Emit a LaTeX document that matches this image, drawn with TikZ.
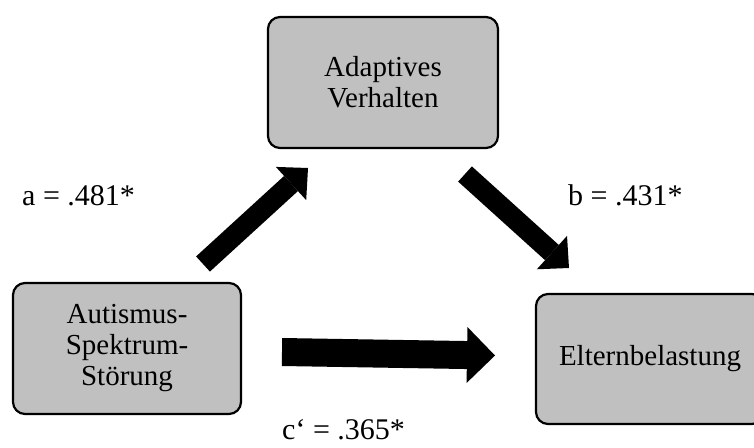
\documentclass[tikz,border=0pt]{standalone}
\usepackage{fontspec}
\setmainfont{Liberation Serif}
\usetikzlibrary{arrows.meta}
\definecolor{boxgray}{RGB}{192,192,192}
\begin{document}
\begin{tikzpicture}[x=1pt,y=-1pt,
  varbox/.style={draw=black, line width=2.2pt, fill=boxgray, rounded corners=12pt,
    align=center, inner sep=0pt, font=\fontsize{29}{31}\selectfont},
  coeff/.style={inner sep=0pt, anchor=base west, font=\fontsize{30}{32}\selectfont},
  thinblock/.style={draw=black, line width=20.5pt,
    -{Triangle[length=23pt,width=45pt,line width=0pt]}},
  thickblock/.style={draw=black, line width=28pt,
    -{Triangle[length=28pt,width=56pt,line width=0pt]}}]
\useasboundingbox (0,0) rectangle (754,447);
\clip (0,0) rectangle (754,447);
% boxes
\node[varbox, minimum width=230pt, minimum height=131pt] (av) at (383,82.5) {Adaptives\\Verhalten};
\node[varbox, minimum width=228pt, minimum height=131pt] (ass) at (127,348.5) {Autismus-\\Spektrum-\\Störung};
\node[varbox, minimum width=228pt, minimum height=130pt] (eb) at (650,359) {Elternbelastung};
% arrow ends
\coordinate (aT) at (203,264);
\coordinate (aH) at (308,168);
\coordinate (bT) at (465,174);
\coordinate (bH) at (569,268);
\coordinate (cT) at (282,352);
\coordinate (cH) at (495,355.5);
\draw[thinblock] (aT) -- (aH);
\draw[thinblock] (bT) -- (bH);
\draw[thickblock] (cT) -- (cH);
% labels
\node[coeff] (la) at (22,205) {a = .481*};
\node[coeff] (lb) at (568,205) {b = .431*};
\node[coeff] (lc) at (282,439) {c‘ = .365*};
\end{tikzpicture}
\end{document}
